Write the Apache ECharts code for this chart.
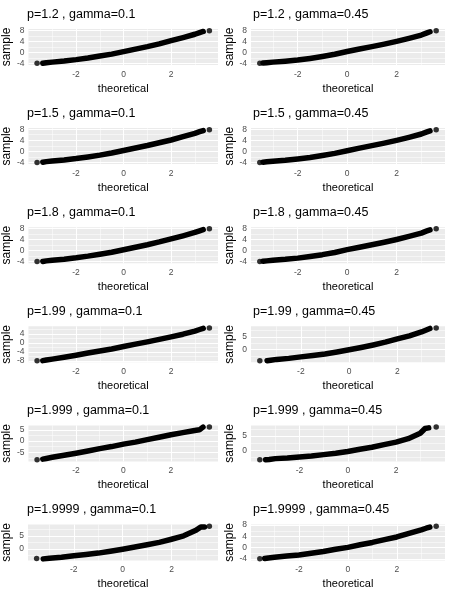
<!DOCTYPE html>
<html>
<head>
<meta charset="utf-8">
<script src="https://cdn.jsdelivr.net/npm/echarts@6/dist/echarts.min.js"></script>
<style>
html,body{margin:0;padding:0;background:#fff;}
#main{width:451px;height:593px;}
</style>
</head>
<body>
<div id="main"></div>
<script>
// panel titles, row by row (left, right)
var titles = [
	'p=1.2 , gamma=0.1', 'p=1.2 , gamma=0.45',
	'p=1.5 , gamma=0.1', 'p=1.5 , gamma=0.45',
	'p=1.8 , gamma=0.1', 'p=1.8 , gamma=0.45',
	'p=1.99 , gamma=0.1', 'p=1.99 , gamma=0.45',
	'p=1.999 , gamma=0.1', 'p=1.999 , gamma=0.45',
	'p=1.9999 , gamma=0.1', 'p=1.9999 , gamma=0.45'
];

// theoretical quantiles where the dense band was read
var theo = [-3.4, -3.25, -3, -2.5, -2, -1.5, -1, -0.5, 0, 0.5, 1, 1.5, 2, 2.5, 3, 3.2, 3.35];

// sample quantiles, one array per panel
var s12_01 = [-3.9, -3.7, -3.5, -3.1, -2.6, -2.0, -1.3, -0.6, 0.3, 1.2, 2.1, 3.1, 4.3, 5.4, 6.6, 7.2, 7.6];
var s12_45 = [-3.9, -3.75, -3.55, -3.2, -2.8, -2.2, -1.5, -0.7, 0.3, 1.2, 2.1, 3.0, 4.0, 5.1, 6.3, 7.0, 7.5];
var s15_01 = [-3.9, -3.7, -3.5, -3.1, -2.6, -2.0, -1.35, -0.6, 0.3, 1.2, 2.1, 3.1, 4.1, 5.3, 6.5, 7.1, 7.5];
var s15_45 = [-3.9, -3.75, -3.55, -3.2, -2.75, -2.2, -1.5, -0.7, 0.25, 1.2, 2.1, 3.0, 4.0, 5.1, 6.3, 7.0, 7.45];
var s18_01 = [-3.9, -3.7, -3.5, -3.1, -2.6, -2.0, -1.3, -0.6, 0.3, 1.2, 2.1, 3.1, 4.2, 5.3, 6.5, 7.1, 7.5];
var s18_45 = [-3.9, -3.75, -3.55, -3.2, -2.75, -2.15, -1.5, -0.7, 0.3, 1.2, 2.1, 3.0, 4.0, 5.1, 6.3, 7.0, 7.45];
var s199_01 = [-7.9, -7.6, -7.2, -6.4, -5.5, -4.5, -3.6, -2.7, -1.6, -0.5, 0.5, 1.6, 2.7, 3.9, 5.3, 6.0, 6.5];
var s199_45 = [-4.4, -4.2, -3.9, -3.5, -2.9, -2.4, -1.8, -1.0, -0.1, 0.8, 1.8, 2.9, 4.2, 5.4, 6.9, 7.7, 8.3];
var s1999_01 = [-8.1, -7.8, -7.3, -6.4, -5.5, -4.5, -3.4, -2.5, -1.4, -0.5, 0.6, 1.7, 2.8, 3.75, 4.7, 5.0, 6.2];
var s1999_45 = [-3.3, -3.2, -2.9, -2.7, -2.3, -2.0, -1.5, -1.0, -0.4, 0.4, 1.1, 2.0, 2.9, 4.1, 6.0, 7.7, 7.9];
var s19999_01 = [null, -3.8, -3.55, -3.2, -2.6, -2.1, -1.6, -0.9, -0.1, 0.7, 1.6, 2.5, 3.7, 5.0, 7.1, 8.4, 8.4];
var s19999_45 = [-3.9, -3.7, -3.45, -3.0, -2.6, -2.0, -1.35, -0.6, 0.1, 1.0, 1.85, 2.85, 3.8, 5.1, 6.3, 6.9, 7.3];
var samples = [s12_01, s12_45, s15_01, s15_45, s18_01, s18_45,
	s199_01, s199_45, s1999_01, s1999_45, s19999_01, s19999_45];

// the lone extreme points at both tails: [theoretical, sample]
var tailX = [[-3.64, 3.61], [-3.53, 3.6], [-3.64, 3.61], [-3.53, 3.6], [-3.64, 3.61], [-3.53, 3.6],
	[-3.64, 3.61], [-3.7, 3.61], [-3.64, 3.62], [-3.64, 3.66], [-3.52, 3.55], [-3.6, 3.61]];
var tailY = [[-3.95, 7.9], [-4.0, 7.9], [-4.0, 7.8], [-4.0, 7.85], [-3.95, 7.8], [-4.0, 7.85],
	[-7.9, 6.7], [-4.4, 8.5], [-8.4, 6.25], [-3.3, 8.2], [-3.7, 8.7], [-4.0, 7.65]];

// tick labels
var xBreaks = [-2, 0, 2];
var yBreaks = [[-4, 0, 4, 8], [-4, 0, 4, 8], [-4, 0, 4, 8], [-4, 0, 4, 8], [-4, 0, 4, 8], [-4, 0, 4, 8],
	[-8, -4, 0, 4], [0, 5], [-5, 0, 5], [0, 5], [0, 5], [-4, 0, 4, 8]];

var FONT = '"Liberation Sans", Arial, sans-serif';

function minors(b, lo, hi){
	var d = b[1] - b[0], out = [b[0] - d / 2];
	for (var k = 0; k < b.length; k++) out.push(b[k] + d / 2);
	return out.filter(function(v){ return v > lo && v < hi; });
}

var chart = echarts.init(document.getElementById('main'));
var grids = [], xAxes = [], yAxes = [], series = [], titleOpts = [];

for (var i = 0; i < 12; i++) {
	var row = Math.floor(i / 2), col = i % 2;
	var oy = row * 99.1;
	var left = col == 0 ? 26 : 251;
	var width = col == 0 ? 192 : 194;
	var sy = samples[i];

	// ggplot style 5% expansion
	var ys = sy.filter(function(v){ return v != null; }).concat(tailY[i]);
	var ylo = Math.min.apply(null, ys), yhi = Math.max.apply(null, ys);
	var yp = (yhi - ylo) * 0.05;
	ylo -= yp; yhi += yp;
	var xlo = tailX[i][0], xhi = tailX[i][1];
	var xp = (xhi - xlo) * 0.05;
	xlo -= xp; xhi += xp;

	grids.push({left: left, top: oy + 29, width: width, height: 36,
		show: true, backgroundColor: '#EBEBEB', borderWidth: 0});

	titleOpts.push({text: titles[i], left: left + 1 + col, top: oy + 8, padding: 0,
		textStyle: {fontSize: 12.5, fontWeight: 'normal', color: '#000', fontFamily: FONT}});

	xAxes.push({type: 'value', gridIndex: i, min: xlo, max: xhi,
		axisLine: {show: false}, splitLine: {show: false},
		axisTick: {show: true, length: 3, lineStyle: {color: '#333', width: 1}, customValues: xBreaks},
		axisLabel: {customValues: xBreaks, fontSize: 8.5, color: '#4D4D4D', margin: 5, fontFamily: FONT},
		name: 'theoretical', nameLocation: 'middle', nameGap: 18,
		nameTextStyle: {fontSize: 11, color: '#000', fontFamily: FONT}});

	yAxes.push({type: 'value', gridIndex: i, min: ylo, max: yhi,
		axisLine: {show: false}, splitLine: {show: false},
		axisTick: {show: true, length: 3, lineStyle: {color: '#333', width: 1}, customValues: yBreaks[i]},
		axisLabel: {customValues: yBreaks[i], fontSize: 8.5, color: '#4D4D4D', margin: 4, fontFamily: FONT},
		name: 'sample', nameLocation: 'middle', nameGap: 15,
		nameTextStyle: {fontSize: 12, color: '#000', fontFamily: FONT}});

	// white grid lines, major and minor
	var lines = [];
	xBreaks.forEach(function(v){ lines.push({xAxis: v, lineStyle: {width: 1.1}}); });
	minors(xBreaks, xlo, xhi).forEach(function(v){ lines.push({xAxis: v, lineStyle: {width: 0.5}}); });
	yBreaks[i].forEach(function(v){ if (v > ylo && v < yhi) lines.push({yAxis: v, lineStyle: {width: 1.1}}); });
	minors(yBreaks[i], ylo, yhi).forEach(function(v){ lines.push({yAxis: v, lineStyle: {width: 0.5}}); });

	var band = [];
	for (var k = 0; k < theo.length; k++) {
		if (sy[k] != null) band.push([theo[k], sy[k]]);
	}
	series.push({type: 'line', xAxisIndex: i, yAxisIndex: i, data: band,
		showSymbol: false, silent: true, z: 3,
		lineStyle: {color: '#000', width: 5.5, cap: 'round', join: 'round'},
		markLine: {silent: true, symbol: ['none', 'none'], z: 1, animation: false,
			label: {show: false}, lineStyle: {color: '#fff', type: 'solid', opacity: 1},
			emphasis: {disabled: true}, data: lines}});

	series.push({type: 'scatter', xAxisIndex: i, yAxisIndex: i, silent: true, z: 4,
		symbolSize: 5.5, itemStyle: {color: '#000'},
		data: [[tailX[i][0], tailY[i][0]], [tailX[i][1], tailY[i][1]]]});
}

chart.setOption({
	animation: false,
	title: titleOpts,
	grid: grids,
	xAxis: xAxes,
	yAxis: yAxes,
	series: series
});
</script>
</body>
</html>
